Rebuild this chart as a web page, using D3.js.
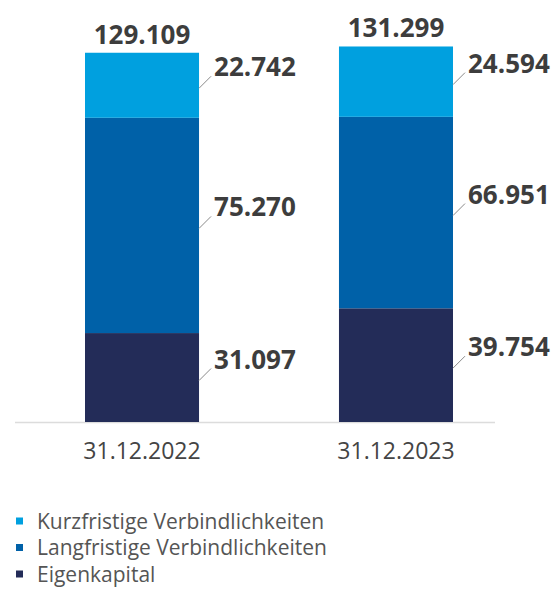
<!DOCTYPE html>
<html><head><meta charset="utf-8">
<script src="https://cdn.jsdelivr.net/npm/d3@7"></script>
<style>body{margin:0;background:#fff;}svg{display:block;font-family:"Open Sans",sans-serif;}</style>
</head><body>
<svg id="c" width="551" height="589"></svg>
<script>
const categories = ["31.12.2022", "31.12.2023"];
const seriesNames = ["Eigenkapital", "Langfristige Verbindlichkeiten", "Kurzfristige Verbindlichkeiten"];
const eigenkapital = [31.097, 39.754];
const langfristige = [75.270, 66.951];
const kurzfristige = [22.742, 24.594];
const totals = [129.109, 131.299];
const colors = ["#232c58", "#0061a8", "#00a0df"];
const legendOrder = [2, 1, 0];

const fmt = v => v.toFixed(3);
const svg = d3.select("#c");
const x = d3.scaleBand().domain(categories).range([85, 453]).paddingInner(0.551).paddingOuter(0);
const y = d3.scaleLinear().domain([0, 140]).range([422, 21.6]);

const rows = categories.map((c, i) => ({cat: c, v: [eigenkapital[i], langfristige[i], kurzfristige[i]]}));
const stack = d3.stack().keys([0,1,2]).value((d, k) => d.v[k]);
const layers = stack(rows);

// axis line
svg.append("line").attr("x1", 15).attr("x2", 495).attr("y1", y(0)+0.5).attr("y2", y(0)+0.5)
  .attr("stroke", "#dcdcdc").attr("stroke-width", 1.5);

layers.forEach((layer, k) => {
  svg.append("g").selectAll("rect").data(layer).join("rect")
    .attr("x", d => x(d.data.cat))
    .attr("width", x.bandwidth())
    .attr("y", d => y(d[1]))
    .attr("height", d => y(d[0]) - y(d[1]))
    .attr("fill", colors[k]);
  const g = svg.append("g");
  layer.forEach((d, i) => {
    const x0 = x(d.data.cat) + x.bandwidth();
    const ym = (y(d[0]) + y(d[1])) / 2 + 3;
    g.append("line").attr("x1", x0).attr("y1", ym).attr("x2", x0 + 12).attr("y2", ym - 12)
      .attr("stroke", "#8a8a8a").attr("stroke-width", 1);
    g.append("text").attr("x", x0 + 15).attr("y", ym - 12)
      .attr("font-size", 26).attr("font-weight", 700).attr("fill", "#3d3d3d")
      .text(fmt(d.data.v[k]));
  });
});

// totals
svg.append("g").selectAll("text").data(categories).join("text")
  .attr("x", d => x(d) + x.bandwidth()/2)
  .attr("y", (d, i) => y(totals[i]) - 9)
  .attr("text-anchor", "middle").attr("font-size", 26).attr("font-weight", 700).attr("fill", "#3d3d3d")
  .text((d, i) => fmt(totals[i]));

// category labels
svg.append("g").selectAll("text").data(categories).join("text")
  .attr("x", d => x(d) + x.bandwidth()/2)
  .attr("y", 458.5)
  .attr("text-anchor", "middle").attr("font-size", 23).attr("fill", "#444")
  .text(d => d);

// legend
const lg = svg.append("g");
legendOrder.forEach((k, j) => {
  const yc = 521 + j * 26.5;
  lg.append("rect").attr("x", 16).attr("y", yc - 3.5).attr("width", 7).attr("height", 7).attr("fill", colors[k]);
  lg.append("text").attr("x", 37).attr("y", yc + 7.5)
    .attr("font-size", 21).attr("fill", "#555").text(seriesNames[k]);
});
</script>
</body></html>
